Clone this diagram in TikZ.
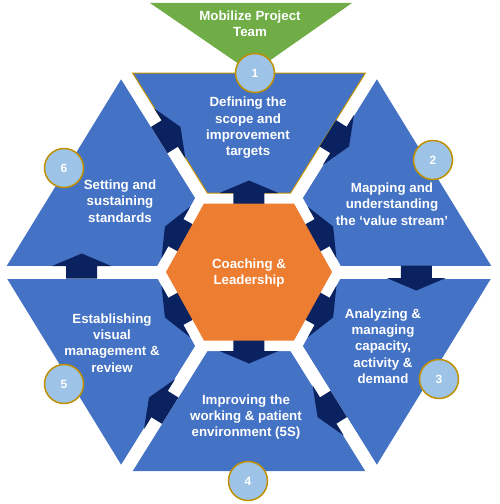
\documentclass[tikz,border=0pt]{standalone}
\usepackage{fontspec}
\setmainfont{Liberation Sans}
\definecolor{triblue}{HTML}{4472C4}
\definecolor{navy}{HTML}{0A2260}
\definecolor{hubor}{HTML}{ED7D31}
\definecolor{mobgreen}{HTML}{70AD47}
\definecolor{lightblue}{HTML}{9DC3E6}
\definecolor{gold}{HTML}{BF9000}
\begin{document}
\begin{tikzpicture}
    [%%%%%%%%%%%%%%%%%%%%%%%%%%%%%%
        x=1pt, y=1pt,
        tri/.style={fill=triblue},
        gap/.style={draw=white, line width=13pt, shorten >=-6pt},
        lbl/.style={text=white, align=center, font=\fontsize{13.3}{16.3}\selectfont\bfseries},
        num/.style={circle, draw=gold, line width=1.5pt, fill=lightblue, minimum size=39pt, inner sep=0pt, text=white, font=\fontsize{12}{14}\selectfont\bfseries},
        flowarrow/.pic={\fill[navy] (0,-15.5) -- (12.5,-15.5) -- (12.5,-29.5) -- (25,0) -- (12.5,29.5) -- (12.5,15.5) -- (0,15.5) -- cycle;},
    ]%%%%%%%%%%%%%%%%%%%%%%%%%%%%%%
\useasboundingbox (-249,-232) rectangle (251,272);

% corners of the big hexagon
\coordinate (C) at (0,0);
\coordinate (r) at (246,0);
\coordinate (tr) at (124,199);
\coordinate (tl) at (-124,199);
\coordinate (l) at (-246,0);
\coordinate (bl) at (-124,-199);
\coordinate (br) at (124,-199);

% green funnel on top
\fill[mobgreen] (-99,269) -- (103,269) -- (3,199) -- cycle;

% six blue triangles
\fill[tri] (C) -- (tl) -- (tr) -- cycle;
\fill[tri] (C) -- (tr) -- (r) -- cycle;
\fill[tri] (C) -- (r) -- (br) -- cycle;
\fill[tri] (C) -- (br) -- (bl) -- cycle;
\fill[tri] (C) -- (bl) -- (l) -- cycle;
\fill[tri] (C) -- (l) -- (tl) -- cycle;

% white gaps and ring
\draw[gap] (C) -- (r);
\draw[gap] (C) -- (tr);
\draw[gap] (C) -- (tl);
\draw[gap] (C) -- (l);
\draw[gap] (C) -- (bl);
\draw[gap] (C) -- (br);
\fill[white] (95,0) -- (51,79) -- (-51,79) -- (-95,0) -- (-51,-79) -- (51,-79) -- cycle;

% gold rim of step 1
\draw[gold, line width=1pt, line join=round] (-116.4,199) -- (116.4,199) -- (41.6,79) -- (-41.6,79) -- cycle;

% arrows between the steps
\pic[rotate=31.9] at (-89.8,131.9) {flowarrow};
\pic[rotate=-31.9] at (78.8,138.7) {flowarrow};
\pic[rotate=-90] at (167.3,6.5) {flowarrow};
\pic[rotate=211.9] at (89.8,-131.9) {flowarrow};
\pic[rotate=148.1] at (-78.8,-138.7) {flowarrow};
\pic[rotate=90] at (-167.3,-6.5) {flowarrow};

% arrows out of the hub
\pic[rotate=90] at (0,66.5) {flowarrow};
\pic[rotate=-90] at (0,-66.5) {flowarrow};
\pic[rotate=29] at (62.25,33.3) {flowarrow};
\pic[rotate=151] at (-62.25,33.3) {flowarrow};
\pic[rotate=209] at (-62.25,-33.3) {flowarrow};
\pic[rotate=331] at (62.25,-33.3) {flowarrow};

% hub
\fill[hubor] (83,0) -- (45,68.5) -- (-45,68.5) -- (-83,0) -- (-45,-68.5) -- (45,-68.5) -- cycle;
\node[lbl] (hub) at (0,-1) {Coaching \&\\Leadership};

% step texts
\node[lbl] (t1) at (-1,144) {Defining the\\scope and\\improvement\\targets};
\node[lbl] (t2) at (143,68) {Mapping and\\understanding\\the ‘value stream’};
\node[lbl] (t3) at (134,-74) {Analyzing \&\\managing\\capacity,\\activity \&\\demand};
\node[lbl] (t4) at (-3,-145) {Improving the\\working \& patient\\environment (5S)};
\node[lbl] (t5) at (-137,-71) {Establishing\\visual\\management \&\\review};
\node[lbl] (t6) at (-129,71) {Setting and\\sustaining\\standards};
\node[lbl] (mob) at (1,248) {Mobilize Project\\Team};

% numbers
\node[num] (n1) at (6,199) {1};
\node[num] (n2) at (184,112) {2};
\node[num] (n3) at (190,-107) {3};
\node[num] (n4) at (-1,-209) {4};
\node[num] (n5) at (-185,-112) {5};
\node[num] (n6) at (-185,104) {6};
\end{tikzpicture}
\end{document}
